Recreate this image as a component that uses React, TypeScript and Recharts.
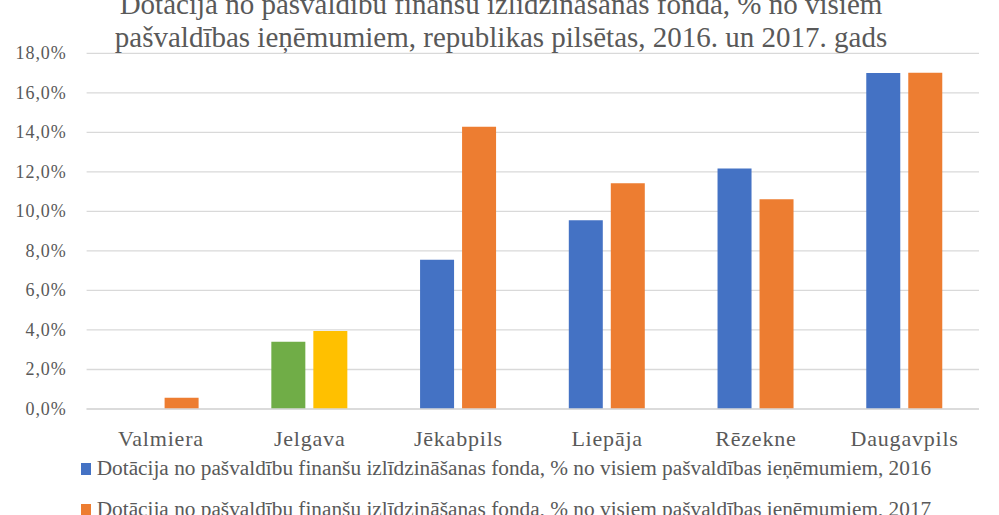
import { BarChart, Bar, XAxis, YAxis, CartesianGrid, Legend, Cell } from "recharts";

const cities = ["Valmiera", "Jelgava", "Jēkabpils", "Liepāja", "Rēzekne", "Daugavpils"];
const values2016 = [null, 3.4, 7.55, 9.55, 12.17, 17.0];
const values2017 = [0.57, 3.95, 14.28, 11.43, 10.62, 17.02];
const yTicks = [0, 2, 4, 6, 8, 10, 12, 14, 16, 18];

const titleLines = [
  "Dotācija no pašvaldību finanšu izlīdzināšanas fonda, % no visiem",
  "pašvaldības ieņēmumiem, republikas pilsētas, 2016. un 2017. gads",
];
const seriesNames = [
  "Dotācija no pašvaldību finanšu izlīdzināšanas fonda, % no visiem pašvaldības ieņēmumiem, 2016",
  "Dotācija no pašvaldību finanšu izlīdzināšanas fonda, % no visiem pašvaldības ieņēmumiem, 2017",
];

// Jelgava bars are coloured differently in the original
const highlightCity = "Jelgava";
const BLUE = "#4472C4";
const ORANGE = "#ED7D31";
const GREEN = "#70AD47";
const YELLOW = "#FFC000";

const FONT = '"Liberation Serif", "Times New Roman", serif';
const TEXT = "#595959";

const data = cities.map((name, i) => ({
  name,
  v2016: values2016[i],
  v2017: values2017[i],
}));

const fmt = (v: number) => v.toFixed(1).replace(".", ",") + "%";

const XTick = ({ x, y, payload }: any) => (
  <text x={x} y={y + 17} textAnchor="middle" fill={TEXT} style={{ fontFamily: FONT, fontSize: 22, letterSpacing: 0.8 }}>
    {payload.value}
  </text>
);

const YTick = ({ x, y, payload }: any) => (
  <text x={x} y={y + 6} textAnchor="end" fill={TEXT} style={{ fontFamily: FONT, fontSize: 18, letterSpacing: 0.9 }}>
    {fmt(payload.value)}
  </text>
);

const renderLegend = () => (
  <div style={{ fontFamily: FONT, fontSize: 21.3, color: TEXT }}>
    {[BLUE, ORANGE].map((c, i) => (
      <div key={i} style={{ display: "flex", alignItems: "center", height: 40.7, whiteSpace: "nowrap" }}>
        <span style={{ display: "inline-block", width: 10, height: 12, background: c, marginRight: 6 }} />
        <span>{seriesNames[i]}</span>
      </div>
    ))}
  </div>
);

export default function App() {
  return (
    <div style={{ position: "relative", width: 999, height: 515, overflow: "hidden", background: "#fff", fontFamily: FONT }}>
      <style>{"body{margin:0}"}</style>
      <BarChart
        width={999}
        height={515}
        data={data}
        margin={{ top: 53.3, right: 20, left: 0, bottom: 76 }}
        barSize={34}
        barGap={8}
      >
        <CartesianGrid vertical={false} stroke="#d9d9d9" strokeWidth={1.3} />
        <XAxis
          dataKey="name"
          height={30}
          axisLine={{ stroke: "#d9d9d9", strokeWidth: 1.3 }}
          tickLine={false}
          tickSize={0}
          tickMargin={20}
          tick={<XTick />}
        />
        <YAxis
          width={86.6}
          domain={[0, 18]}
          ticks={yTicks}
          axisLine={false}
          tickLine={false}
          tickSize={0}
          tickMargin={20}
          tick={<YTick />}
        />
        <Legend
          layout="vertical"
          align="center"
          verticalAlign="middle"
          content={renderLegend}
          wrapperStyle={{ left: 80.7, top: 448.5, width: 910 }}
        />
        <Bar dataKey="v2016" name={seriesNames[0]} fill={BLUE} isAnimationActive={false}>
          {data.map((d, i) => (
            <Cell key={`a-${i}`} fill={d.name === highlightCity ? GREEN : BLUE} />
          ))}
        </Bar>
        <Bar dataKey="v2017" name={seriesNames[1]} fill={ORANGE} isAnimationActive={false}>
          {data.map((d, i) => (
            <Cell key={`b-${i}`} fill={d.name === highlightCity ? YELLOW : ORANGE} />
          ))}
        </Bar>
      </BarChart>
      <svg width={999} height={60} style={{ position: "absolute", left: 0, top: 0, pointerEvents: "none" }}>
        {titleLines.map((t, i) => (
          <text
            key={i}
            x={501}
            y={14 + i * 32.7}
            textAnchor="middle"
            fill={TEXT}
            fontFamily={FONT}
            fontSize={29}
          >
            {t}
          </text>
        ))}
      </svg>
    </div>
  );
}
